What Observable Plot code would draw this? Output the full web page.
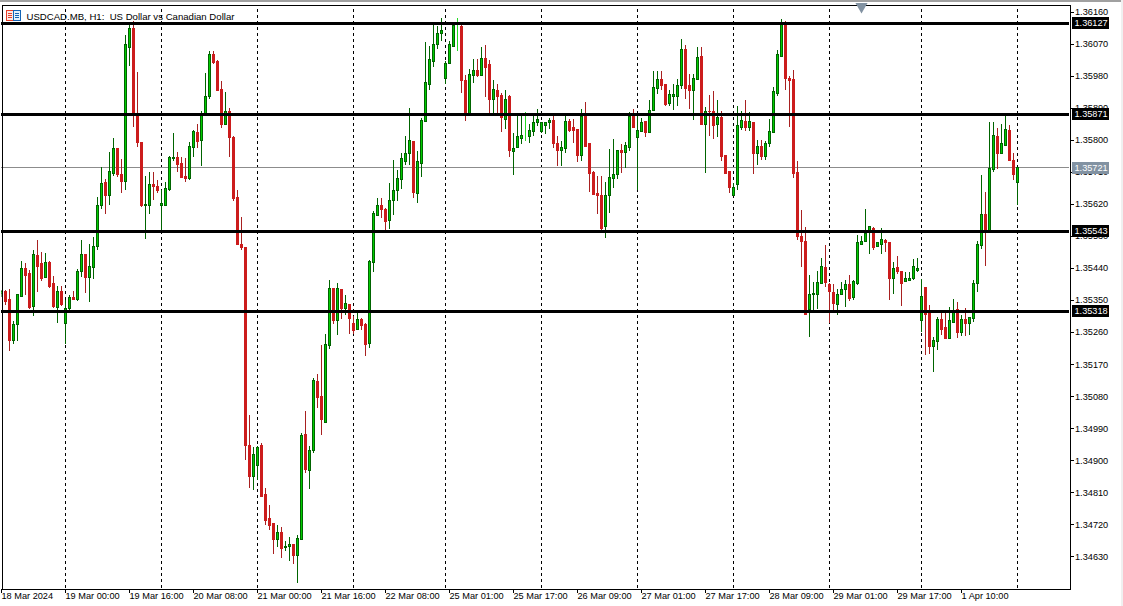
<!DOCTYPE html>
<html>
<head>
<meta charset="utf-8">
<script src="https://cdn.jsdelivr.net/npm/d3@7"></script>
<script src="https://cdn.jsdelivr.net/npm/@observablehq/plot@0.6"></script>
<style>
html,body{margin:0;padding:0;background:#fff;overflow:hidden}
#wrap{position:relative;width:1123px;height:606px}
#wrap svg.plot{position:absolute;left:0;top:0}
.strip-top{position:absolute;left:0;top:0;width:1123px;height:2px;background:#a0a0a0}
.strip-right{position:absolute;right:0;top:0;width:2px;height:606px;background:#f0f0f0}
#icon{position:absolute;left:6px;top:9px}
</style>
</head>
<body>
<div id="wrap">
<div id="chart"></div>
<div class="strip-top"></div>
<div class="strip-right"></div>
<svg id="icon" width="16" height="13" viewBox="0 0 16 13" shape-rendering="crispEdges">
<rect x="0.5" y="1.5" width="7" height="10" fill="#fde8e4" stroke="#e8402a"/>
<rect x="7.5" y="1.5" width="7" height="10" fill="#e4f0fb" stroke="#1464b4"/>
<path d="M2 4.5h4M2 6.5h4M2 8.5h4" stroke="#e8402a"/>
<path d="M9 4.5h4M9 6.5h4M9 8.5h4" stroke="#1464b4"/>
</svg>
</div>
<script>
// Prices in points (1e-5)
const opens=[135369,135375,135350,135237,135282,135361,135439,135425,135333,135476,135451,135414,135454,135395,135330,135375,
135285,135327,135358,135352,135431,135479,135414,135442,135501,135616,135681,135642,135706,135774,135703,135684,
136060,136111,135869,135793,135614,135616,135675,135670,135616,135616,135661,135748,135751,135734,135698,135692,
135779,135821,135799,135869,135920,136038,136021,135942,135844,135878,135807,135639,135507,135496,134940,134855,
134886,134940,134805,134735,134723,134676,134698,134656,134659,134664,134631,134676,134971,134872,134928,135122,
135080,135007,135223,135381,135291,135378,135327,135338,135285,135268,135296,135280,135229,135456,135588,135614,
135605,135574,135630,135656,135687,135740,135760,135796,135650,135732,135852,135956,136021,136066,136099,135973,
136015,136063,136119,136119,135967,135872,135979,135995,135981,136029,136010,135914,135937,135925,135858,135920,
135768,135779,135804,135813,135810,135824,135847,135824,135841,135847,135855,135790,135771,135776,135852,135833,
135830,135757,135866,135788,135709,135650,135644,135555,135642,135692,135701,135771,135765,135779,135866,135807,
135824,135852,135819,135883,135945,135970,135956,135903,135922,135922,135951,136054,135951,135937,135970,136035,
135844,135880,135878,135844,135861,135757,135712,135642,135675,135833,135852,135835,135849,135762,135782,135754,
135788,135821,135931,136035,136125,135973,135970,135709,135527,135515,135322,135364,135366,135397,135442,135392,
135372,135338,135366,135378,135392,135358,135397,135507,135515,135541,135552,135501,135507,135518,135510,135409,
135442,135431,135403,135406,135409,135434,135291,135386,135319,135218,135232,135294,135274,135243,135288,135324,
135260,135294,135285,135299,135397,135504,135591,135546,135717,135810,135762,135785,135827,135743,135681];
const closes=[135375,135347,135237,135282,135366,135437,135420,135330,135479,135445,135411,135454,135389,135333,135375,135336,
135327,135358,135352,135431,135479,135414,135445,135501,135616,135678,135644,135712,135774,135701,135684,136066,
136111,135875,135793,135616,135619,135675,135670,135656,135622,135664,135751,135751,135729,135695,135692,135782,
135824,135796,135869,135922,136038,136018,135939,135844,135880,135807,135636,135507,135496,134942,134855,134917,
134937,134799,134732,134718,134676,134698,134653,134659,134664,134631,134681,134968,134875,134928,135125,135077,
135015,135226,135383,135291,135381,135327,135341,135299,135263,135294,135277,135226,135459,135594,135616,135605,
135569,135630,135656,135692,135746,135760,135799,135653,135740,135855,135962,136024,136068,136099,136108,136015,
136068,136122,136119,135965,135872,135984,135995,135981,136029,136004,135914,135942,135920,135861,135914,135771,
135776,135810,135813,135813,135827,135849,135858,135847,135849,135855,135788,135771,135779,135852,135827,135827,
135757,135866,135782,135706,135647,135642,135552,135644,135695,135701,135771,135765,135785,135866,135835,135827,
135849,135819,135883,135948,135970,135951,135900,135928,135928,135953,136054,135945,135937,135973,136032,135844,
135878,135878,135841,135861,135754,135706,135667,135667,135841,135855,135833,135852,135760,135782,135754,135790,
135824,135934,136038,136125,135973,135967,135706,135529,135515,135310,135366,135369,135400,135445,135400,135375,
135341,135366,135378,135392,135355,135403,135512,135515,135538,135555,135496,135510,135521,135510,135409,135439,
135431,135395,135409,135411,135445,135439,135361,135308,135220,135235,135294,135268,135243,135291,135316,135260,
135294,135285,135302,135397,135507,135591,135546,135720,135813,135762,135788,135830,135743,135703,135721];
const highs=[135378,135378,135381,135291,135366,135459,135454,135434,135490,135518,135484,135482,135459,135417,135389,135389,
135350,135364,135375,135437,135518,135479,135507,135527,135639,135723,135689,135765,135804,135776,135746,136094,
136125,136133,135990,135793,135698,135709,135709,135687,135658,135681,135754,135819,135765,135751,135748,135793,
135827,135844,135880,135987,136049,136049,136024,135965,135934,135889,135810,135658,135583,135496,135027,134937,
134940,134948,134822,134774,134723,134718,134712,134673,134684,134664,134690,134976,135038,134940,135131,135142,
135223,135254,135406,135383,135397,135381,135364,135338,135305,135313,135299,135285,135462,135599,135636,135636,
135608,135678,135743,135715,135762,135810,135889,135796,135768,135861,136074,136063,136125,136119,136141,136021,
136077,136125,136141,136122,135981,135998,136026,136026,136060,136066,136024,135967,135956,135931,135939,135925,
135819,135866,135866,135878,135844,135869,135886,135849,135849,135861,135866,135810,135796,135866,135858,135858,
135830,135886,135906,135788,135712,135698,135698,135681,135774,135802,135771,135788,135793,135878,135886,135866,
135861,135852,135911,135993,135993,135993,135956,135939,135956,135970,136082,136066,135984,135984,136060,136060,
135892,135925,135937,135911,135880,135757,135712,135678,135894,135880,135911,135878,135849,135799,135799,135796,
135858,135948,136052,136139,136133,135979,135995,135740,135602,135555,135420,135400,135431,135468,135504,135397,
135395,135381,135400,135406,135420,135406,135532,135529,135605,135555,135555,135512,135552,135521,135510,135456,
135473,135431,135428,135428,135465,135468,135409,135386,135336,135246,135302,135316,135316,135330,135352,135344,
135308,135327,135302,135406,135515,135701,135653,135849,135849,135833,135844,135866,135841,135762,135723];
const lows=[135358,135336,135206,135226,135235,135361,135364,135324,135305,135372,135403,135411,135383,135327,135285,135333,
135226,135322,135350,135347,135414,135369,135344,135409,135490,135605,135591,135616,135698,135695,135650,135658,
136007,135835,135779,135611,135521,135591,135630,135650,135543,135616,135656,135740,135709,135692,135681,135687,
135751,135776,135726,135869,135914,136012,135937,135833,135844,135751,135628,135504,135490,134900,134822,134816,
134844,134799,134718,134704,134636,134656,134625,134645,134617,134608,134555,134676,134864,134819,134920,135046,
134971,135004,135212,135282,135251,135296,135308,135254,135254,135266,135266,135192,135215,135428,135585,135580,
135546,135549,135588,135628,135661,135729,135729,135636,135622,135695,135852,135939,136004,136054,136077,135956,
136015,136063,136049,135931,135852,135872,135959,135976,135981,135920,135872,135872,135872,135821,135830,135751,
135701,135779,135788,135796,135790,135810,135838,135819,135816,135830,135776,135726,135726,135762,135821,135790,
135737,135740,135782,135653,135644,135591,135546,135524,135594,135664,135689,135706,135720,135768,135833,135658,
135824,135807,135819,135883,135928,135939,135894,135894,135883,135894,135942,135914,135886,135855,135967,135844,
135706,135810,135802,135807,135740,135706,135650,135642,135658,135827,135824,135824,135703,135729,135743,135743,
135779,135819,135922,136032,135939,135835,135692,135518,135442,135310,135246,135322,135324,135395,135386,135285,
135313,135308,135364,135330,135347,135350,135392,135504,135515,135479,135490,135498,135479,135484,135350,135366,
135423,135333,135403,135403,135406,135428,135260,135195,135198,135147,135209,135251,135240,135240,135288,135243,
135249,135249,135251,135288,135372,135493,135445,135546,135709,135717,135762,135782,135740,135687,135616];

const priceTicks=[1.3616,1.3607,1.3598,1.3589,1.358,1.3571,1.3562,1.3553,1.3544,1.3535,1.3526,1.3517,1.3508,1.3499,1.349,1.3481,1.3472,1.3463];
const timeTickIndex=[0,16,32,48,64,80,96,112,128,144,160,176,192,208,224,240];
const timeTickLabels=["18 Mar 2024","19 Mar 00:00","19 Mar 16:00","20 Mar 08:00","21 Mar 00:00","21 Mar 16:00","22 Mar 08:00","25 Mar 01:00","25 Mar 17:00","26 Mar 09:00","27 Mar 01:00","27 Mar 17:00","28 Mar 09:00","29 Mar 01:00","29 Mar 17:00","1 Apr 10:00"];
const dayStarts=[16,40,64,88,111,135,159,183,207,230,254];
const levels=[1.36127,1.35871,1.35543,1.35318];
const currentPrice=[1.35721];
const titleText="USDCAD.MB, H1:\u00a0 US Dollar vs Canadian Dollar";

const FONT="'Liberation Sans',Arial,sans-serif";
const UP_FILL="#00cc00",UP_DARK="#006400",DOWN="#cc1c1c",DOWN_WICK="#a82020",DOJI="#22dd22",CUR="#8292a2";

const candles=opens.map((o,i)=>({i,o:o/1e5,c:closes[i]/1e5,h:highs[i]/1e5,l:lows[i]/1e5}));
const bodyStroke=d=>d.c>d.o?UP_DARK:d.c<d.o?DOWN:DOJI;
const bodyFill=d=>d.c>d.o?UP_FILL:d.c<d.o?DOWN:DOJI;
const wickStroke=d=>d.c>d.o?UP_DARK:d.c<d.o?DOWN_WICK:DOJI;
const tag=[...levels.map(v=>({v,bg:"#000"})),...currentPrice.map(v=>({v,bg:CUR}))];

const crisp={shapeRendering:"crispEdges"};
const plot=Plot.plot({
  width:1123,height:606,
  marginLeft:1.5,marginRight:53.5,marginTop:4.5,marginBottom:17.5,
  style:{background:"#fff",fontFamily:FONT,fontSize:"9.2px",color:"#000",overflow:"visible"},
  x:{type:"linear",domain:[0,254],range:[1,1017]},
  y:{type:"linear",domain:[1.345411,1.361797],range:[588,4.5]},
  marks:[
    Plot.ruleX(dayStarts,{x:d=>d,y1:1.345411,y2:1.361797,stroke:"#000",strokeWidth:1,strokeDasharray:"3,3",...crisp}),
    Plot.ruleY(currentPrice,{y:d=>d,x1:0,x2:267,dy:-0.5,stroke:"#8c8c8c",strokeWidth:1,...crisp}),
    Plot.ruleX(candles,{x:"i",y1:"l",y2:"h",stroke:wickStroke,strokeWidth:1,clip:"frame",...crisp}),
    Plot.rect(candles,{x1:d=>d.i-0.25,x2:d=>d.i+0.25,y1:"o",y2:"c",fill:bodyFill,stroke:bodyStroke,strokeWidth:1,dx:0.5,clip:"frame",...crisp}),
    Plot.ruleY(levels,{y:d=>d,x1:0,x2:267,dy:-0.5,stroke:"#000",strokeWidth:3,...crisp}),
    Plot.frame({stroke:"#000",strokeWidth:1,...crisp}),
    Plot.axisY({anchor:"right",ticks:priceTicks,tickFormat:d=>d.toFixed(5),tickSize:3,tickPadding:2,fontSize:9.2,fill:"#000",stroke:"#000",label:null,...crisp}),
    Plot.axisX({anchor:"bottom",ticks:timeTickIndex,tickFormat:d=>timeTickLabels[timeTickIndex.indexOf(d)],tickSize:4,tickPadding:-1,textAnchor:"start",fontSize:9.2,fill:"#000",stroke:"#000",label:null,...crisp}),
    Plot.rect(tag,{x1:267.7,x2:277.1,y1:d=>d.v-0.00017,y2:d=>d.v+0.00017,fill:"bg",...crisp}),
    Plot.text(tag,{x:272.4,y:"v",dy:-0.5,text:d=>d.v.toFixed(5),fill:"#fff",fontSize:9.2,fontFamily:FONT}),
    Plot.dot([215],{x:d=>d,y:1.361754,symbol:"triangle",rotate:180,r:4.5,fill:CUR,stroke:"none"}),
    Plot.text([titleText],{x:6.25,y:1.36146,text:d=>d,textAnchor:"start",fill:"#000",fontSize:9.6,fontFamily:FONT})
  ]
});
document.getElementById("chart").appendChild(plot);
</script>
</body>
</html>
